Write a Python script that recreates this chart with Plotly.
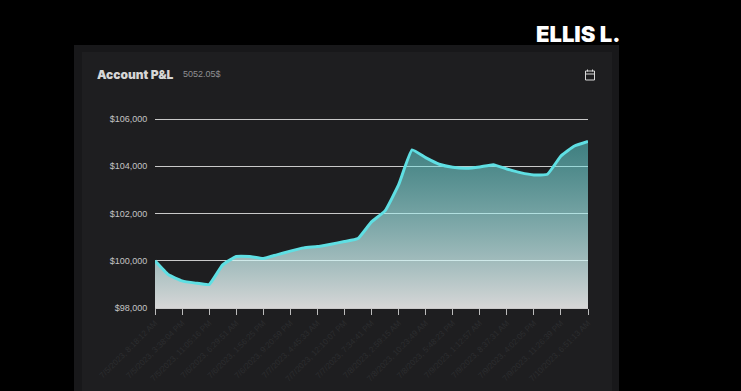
import plotly.graph_objects as go

TITLE = "Account P&L"
SUBTITLE = "5052.05$"
NAME = "ELLIS L."
pnl = [100000, 99404, 99150, 99053, 98994, 99827, 100178, 100178, 100093, 100250, 100406,
       100545, 100600, 100702, 100812, 100939, 101645, 102110, 103209, 104690, 104363, 104084,
       103957, 103915, 103970, 104067, 103886, 103730, 103632, 103660, 104435, 104858, 105052]
dates = ["7/5/2023, 8:18:12 AM", "7/5/2023, 11:42:37 AM", "7/5/2023, 3:38:04 PM", "7/5/2023, 7:21:49 PM",
         "7/5/2023, 11:05:16 PM", "7/6/2023, 2:47:33 AM", "7/6/2023, 6:29:51 AM", "7/6/2023, 10:14:08 AM",
         "7/6/2023, 1:56:25 PM", "7/6/2023, 5:38:42 PM", "7/6/2023, 9:20:59 PM", "7/7/2023, 1:03:16 AM",
         "7/7/2023, 4:45:33 AM", "7/7/2023, 8:27:50 AM", "7/7/2023, 12:10:07 PM", "7/7/2023, 3:52:24 PM",
         "7/7/2023, 7:34:41 PM", "7/7/2023, 11:16:58 PM", "7/8/2023, 2:59:15 AM", "7/8/2023, 6:41:32 AM",
         "7/8/2023, 10:23:49 AM", "7/8/2023, 2:06:06 PM", "7/8/2023, 5:48:23 PM", "7/8/2023, 9:30:40 PM",
         "7/9/2023, 1:12:57 AM", "7/9/2023, 4:55:14 AM", "7/9/2023, 8:37:31 AM", "7/9/2023, 12:19:48 PM",
         "7/9/2023, 4:02:05 PM", "7/9/2023, 7:44:22 PM", "7/9/2023, 11:26:39 PM", "7/10/2023, 3:08:56 AM",
         "7/10/2023, 6:51:13 AM"]
y_ticks = [98000, 100000, 102000, 104000, 106000]
y_labels = ["$98,000", "$100,000", "$102,000", "$104,000", "$106,000"]
y_range = [98000, 106127]

W, H = 741, 391
L, R, T, B = 155, 588, 116, 308
px = lambda v: (v - L) / (R - L)
py = lambda v: (B - v) / (B - T)


def rect(x0, y0, x1, y1, **kw):
    return dict(type="rect", xref="paper", yref="paper", x0=px(x0), x1=px(x1),
                y0=py(y0), y1=py(y1), layer="below", **kw)


shapes = [
    rect(74, 45, 619, 400, fillcolor="#18181a", line_width=0),
    rect(82, 52, 612, 400, fillcolor="#1e1e20", line_width=0),
    # calendar icon
    rect(585.5, 71, 594.5, 80, line=dict(color="#d8d8d8", width=1), fillcolor="rgba(0,0,0,0)"),
    dict(type="line", xref="paper", yref="paper", x0=px(585.5), x1=px(594.5), y0=py(74), y1=py(74),
         line=dict(color="#d8d8d8", width=1)),
    dict(type="line", xref="paper", yref="paper", x0=px(587.5), x1=px(587.5), y0=py(69.5), y1=py(71.5),
         line=dict(color="#d8d8d8", width=1)),
    dict(type="line", xref="paper", yref="paper", x0=px(592.5), x1=px(592.5), y0=py(69.5), y1=py(71.5),
         line=dict(color="#d8d8d8", width=1)),
]

fig = go.Figure(go.Scatter(
    x=dates, y=pnl, mode="lines",
    line=dict(color="#5fdfe3", width=3, shape="spline", smoothing=0.35),
    fill="tozeroy",
    fillgradient=dict(type="vertical", start=max(pnl), stop=min(y_ticks),
                      colorscale=[[0, "rgba(95,222,222,0.5)"], [1, "rgba(255,255,255,0.82)"]]),
    hoverinfo="skip",
))

fig.update_layout(
    width=W, height=H, autosize=False,
    margin=dict(l=L, r=W - R, t=T, b=H - B, pad=0, autoexpand=False),
    paper_bgcolor="#000000", plot_bgcolor="rgba(0,0,0,0)",
    showlegend=False, shapes=shapes,
    font=dict(family="Liberation Sans, Arial, sans-serif"),
    annotations=[
        dict(text=TITLE, xref="paper", yref="paper", x=px(94.5), y=py(74), xanchor="left", yanchor="middle",
             showarrow=False, font=dict(family="Inter", size=12, weight=900, color="#d6d6d6")),
        dict(text=SUBTITLE, xref="paper", yref="paper", x=px(180.5), y=py(74), xanchor="left", yanchor="middle",
             showarrow=False, font=dict(size=9, color="#8f8f92")),
        dict(text=NAME, xref="paper", yref="paper", x=px(533.5), y=py(33.5), xanchor="left", yanchor="middle",
             showarrow=False, font=dict(family="Inter", size=22, weight=900, color="#ffffff")),
    ],
    xaxis=dict(
        type="category", range=[0, len(dates) - 1], tickmode="array",
        tickvals=dates[::2], ticktext=dates[::2], tickangle=-45,
        tickfont=dict(size=8.2, color="#2c2d2f"), ticks="outside", ticklen=6, tickwidth=1,
        tickcolor="#bdbdbd", showline=True, linecolor="#c8c8c8", linewidth=1,
        showgrid=False, zeroline=False,
    ),
    yaxis=dict(
        range=y_range, tickmode="array", tickvals=y_ticks, ticktext=y_labels,
        tickfont=dict(size=9, color="#c4c4c4"), showgrid=True, gridcolor="#c9c9c9", gridwidth=1,
        zeroline=False, showline=False, ticks="outside", ticklen=5, tickcolor="rgba(0,0,0,0)",
    ),
)

fig.write_html("out.html", config={"displayModeBar": False},
               post_script="document.body.style.margin='0';document.body.style.overflow='hidden';")
